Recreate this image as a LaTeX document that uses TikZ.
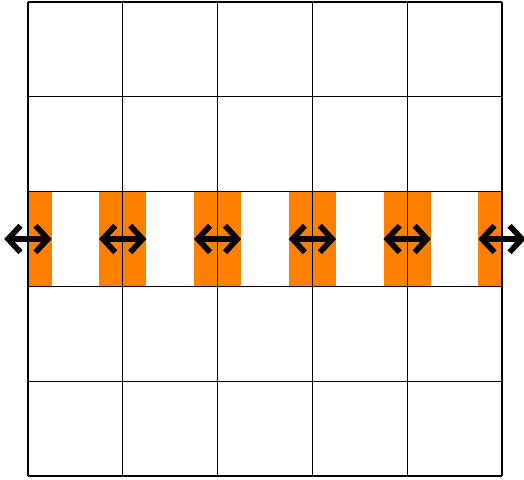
\documentclass[tikz,border=0pt]{standalone}
\usetikzlibrary{arrows.meta}
\definecolor{bandorange}{HTML}{FF8000}
\tikzset{
  grid line/.style={draw=black, line width=0.35pt},
  band/.style={fill=bandorange, draw=none},
  swap arrow/.style={{Straight Barb[length=1.3mm,width=2.8mm]}-{Straight Barb[length=1.3mm,width=2.8mm]}, line width=1.7pt, black}
}
\begin{document}
\begin{tikzpicture}
  \useasboundingbox (-0.295,-0.032) rectangle (5.232,5.021);
  % orange bands along the middle row
  \fill [band] (0,2) rectangle (0.25,3);
  \foreach \k in {1,...,4}
    \fill [band] (\k-0.25,2) rectangle (\k+0.25,3);
  \fill [band] (4.75,2) rectangle (5,3);
  % grid
  \draw [grid line] (0,0) grid (5,5);
  % arrows
  \foreach \k in {0,...,5} {
    \coordinate (l\k) at (\k-0.25,2.5);
    \coordinate (r\k) at (\k+0.25,2.5);
    \draw [swap arrow] (l\k) -- (r\k);
  }
\end{tikzpicture}
\end{document}
